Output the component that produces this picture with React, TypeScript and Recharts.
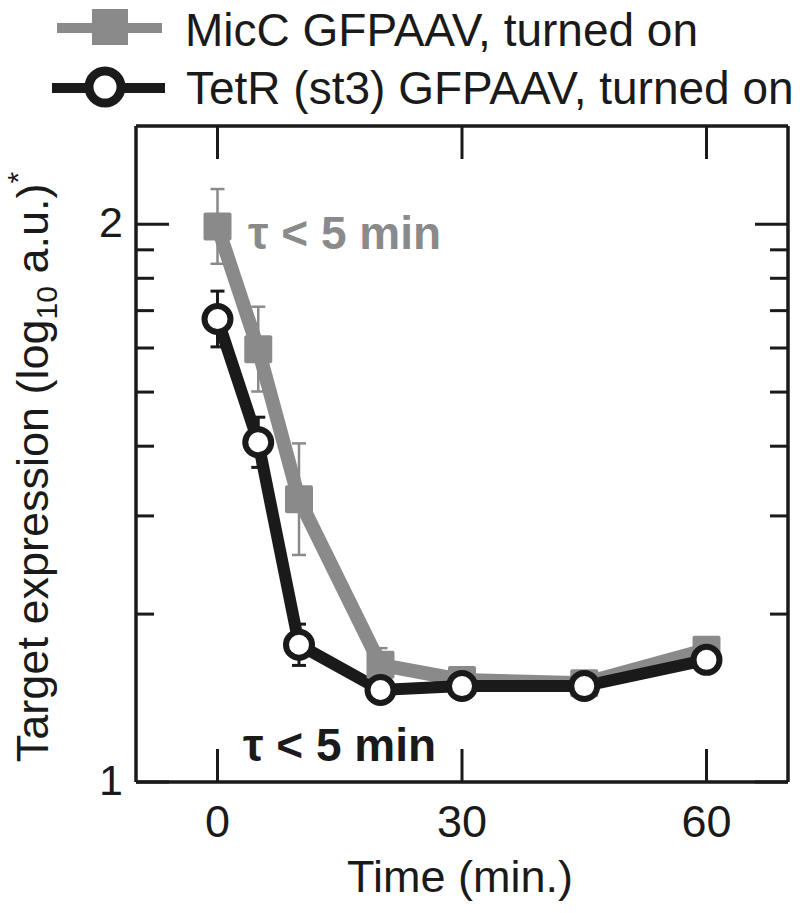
import { LineChart, Line, XAxis, YAxis, ErrorBar, Legend } from 'recharts'

const times = [0, 5, 10, 20, 30, 45, 60]
const micC = [1.996, 1.776, 1.507, 1.21, 1.183, 1.177, 1.237]
const micCErr = [0.067, 0.076, 0.1, 0.03, 0.015, 0.015, 0.015]
const tetR = [1.83, 1.609, 1.246, 1.165, 1.172, 1.172, 1.219]
const tetRErr = [0.05, 0.045, 0.037, 0.015, 0.012, 0.012, 0.012]

const xTicks = [0, 30, 60]
// log10 positions of 10, 20, ..., 100
const yTicks = [1, 1.301, 1.477, 1.602, 1.699, 1.778, 1.845, 1.903, 1.954, 2]
const yMajor = [1, 2]

const seriesNames = ['MicC GFPAAV, turned on', 'TetR (st3) GFPAAV, turned on']

const GRAY = '#8a8a8a'
const DARK = '#1a1a1a'
const FONT = "'Liberation Sans', Arial, sans-serif"

const data = times.map((t, i) => ({
  t,
  micC: micC[i],
  micCErr: micCErr[i],
  tetR: tetR[i],
  tetRErr: tetRErr[i],
}))

const LeftTick = (p: any) => {
  const v = p.payload.value
  const major = yMajor.includes(v)
  return (
    <g>
      <line x1={p.x} x2={p.x + (major ? 33 : 18)} y1={p.y} y2={p.y} stroke={DARK} strokeWidth={3} />
      {major && (
        <text x={p.x - 13} y={p.y + 13} textAnchor="end" fontSize={43} fontFamily={FONT} fill={DARK}>
          {v}
        </text>
      )}
    </g>
  )
}

const RightTick = (p: any) => {
  const major = yMajor.includes(p.payload.value)
  return <line x1={p.x} x2={p.x - (major ? 33 : 18)} y1={p.y} y2={p.y} stroke={DARK} strokeWidth={3} />
}

const BottomTick = (p: any) => (
  <g>
    <line x1={p.x} x2={p.x} y1={p.y} y2={p.y - 33} stroke={DARK} strokeWidth={3} />
    <text x={p.x} y={p.y + 55} textAnchor="middle" fontSize={45} fontFamily={FONT} fill={DARK}>
      {p.payload.value}
    </text>
  </g>
)

const TopTick = (p: any) => (
  <line x1={p.x} x2={p.x} y1={p.y} y2={p.y + 33} stroke={DARK} strokeWidth={3} />
)

const SquareDot = (p: any) => (
  <rect key={`sq-${p.index}`} x={p.cx - 14} y={p.cy - 14} width={28} height={28} rx={2} fill={GRAY} />
)

const CircleDot = (p: any) => (
  <circle key={`c-${p.index}`} cx={p.cx} cy={p.cy} r={13} fill="#fff" stroke={DARK} strokeWidth={6} />
)

const renderLegend = () => (
  <svg width={800} height={120} style={{ display: 'block' }}>
    <line x1={57} x2={162} y1={28} y2={28} stroke={GRAY} strokeWidth={10} />
    <rect x={92} y={9} width={36} height={36} fill={GRAY} />
    <text x={185} y={46} fontSize={46} fontFamily={FONT} fill={DARK}>
      {seriesNames[0]}
    </text>
    <line x1={52} x2={165} y1={88} y2={88} stroke={DARK} strokeWidth={10} />
    <circle cx={105} cy={87} r={16} fill="#fff" stroke={DARK} strokeWidth={9} />
    <text x={186} y={104} fontSize={46} fontFamily={FONT} fill={DARK}>
      {seriesNames[1]}
    </text>
  </svg>
)

export default function App() {
  return (
    <div style={{ position: 'absolute', left: 0, top: 0, width: 800, height: 913, background: '#fff' }}>
      <LineChart width={800} height={913} data={data} margin={{ top: 125, right: 11, bottom: 130, left: 135 }}>
        <XAxis
          xAxisId="bottom"
          type="number"
          dataKey="t"
          domain={[-10, 70]}
          ticks={xTicks}
          height={1}
          tickSize={0}
          tickMargin={0}
          tickLine={false}
          axisLine={{ stroke: DARK, strokeWidth: 3.5 }}
          tick={BottomTick}
          allowDataOverflow
        />
        <XAxis
          xAxisId="top"
          orientation="top"
          type="number"
          dataKey="t"
          domain={[-10, 70]}
          ticks={xTicks}
          height={1}
          tickSize={0}
          tickMargin={0}
          tickLine={false}
          axisLine={{ stroke: DARK, strokeWidth: 3.5 }}
          tick={TopTick}
          allowDataOverflow
        />
        <YAxis
          yAxisId="left"
          type="number"
          domain={[1, 2.176]}
          ticks={yTicks}
          width={1}
          tickSize={0}
          tickMargin={0}
          tickLine={false}
          axisLine={{ stroke: DARK, strokeWidth: 3.5 }}
          tick={LeftTick}
          allowDataOverflow
          interval={0}
        />
        <YAxis
          yAxisId="right"
          orientation="right"
          type="number"
          domain={[1, 2.176]}
          ticks={yTicks}
          width={1}
          tickSize={0}
          tickMargin={0}
          tickLine={false}
          axisLine={{ stroke: DARK, strokeWidth: 3.5 }}
          tick={RightTick}
          allowDataOverflow
          interval={0}
        />
        <Legend
          layout="horizontal"
          verticalAlign="middle"
          align="center"
          wrapperStyle={{ top: 0, left: 0, width: 800 }}
          content={renderLegend}
        />
        <Line
          xAxisId="bottom"
          yAxisId="left"
          dataKey="micC"
          name={seriesNames[0]}
          stroke={GRAY}
          strokeWidth={14}
          dot={SquareDot}
          activeDot={false}
          isAnimationActive={false}
        >
          <ErrorBar dataKey="micCErr" direction="y" width={7} stroke={GRAY} strokeWidth={2.5} />
        </Line>
        <Line
          xAxisId="bottom"
          yAxisId="left"
          dataKey="tetR"
          name={seriesNames[1]}
          stroke={DARK}
          strokeWidth={12}
          dot={CircleDot}
          activeDot={false}
          isAnimationActive={false}
        >
          <ErrorBar dataKey="tetRErr" direction="y" width={7} stroke={DARK} strokeWidth={3} />
        </Line>
      </LineChart>
      <svg width={800} height={913} style={{ position: 'absolute', left: 0, top: 0, pointerEvents: 'none' }}>
        <text
          transform="translate(48, 467) rotate(-90)"
          textAnchor="middle"
          fontSize={45}
          fontFamily={FONT}
          fill={DARK}
        >
          Target expression (log
          <tspan fontSize={30} dy={9}>10</tspan>
          <tspan dy={-9}> a.u.)</tspan>
          <tspan fontSize={30} dy={-20}>*</tspan>
        </text>
        <text x={460} y={892} textAnchor="middle" fontSize={45} fontFamily={FONT} fill={DARK}>
          Time (min.)
        </text>
        <text x={248} y={249} fontSize={46} fontWeight="bold" fontFamily={FONT} fill={GRAY}>
          τ &lt; 5 min
        </text>
        <text x={243} y={761} fontSize={46} fontWeight="bold" fontFamily={FONT} fill={DARK}>
          τ &lt; 5 min
        </text>
      </svg>
    </div>
  )
}
